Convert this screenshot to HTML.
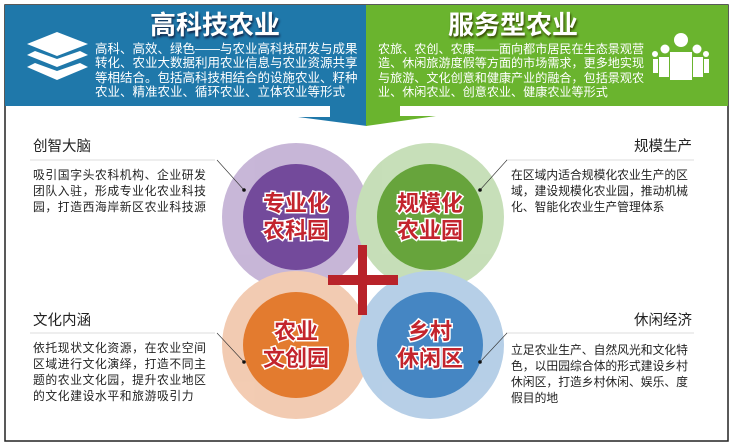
<!DOCTYPE html>
<html><head><meta charset="utf-8"><style>
body{margin:0;width:734px;height:448px;background:#fff;overflow:hidden;position:relative;font-family:"Liberation Sans","Noto Sans CJK SC",sans-serif;}
.a{position:absolute;}
.hb{color:#fff;font-size:12.5px;line-height:14.3px;white-space:nowrap;}
.t{color:#222;font-size:11.8px;line-height:16px;}
.h{color:#222;font-size:14.5px;}
</style></head><body>
<svg class="a" style="left:0;top:0" width="734" height="448">
<rect x="5" y="5" width="723" height="436" fill="#fff" stroke="#222" stroke-width="1.5"/>
<polygon points="5,5 367,5 367,126 298,117 330,117 330,106 5,106" fill="#1f78aa"/>
<polygon points="366,5 728,5 728,106 400,106 400,116 436,116 366,126" fill="#6ab42e"/>
<g fill="#fff">
<polygon points="57,32 88,44 57,56 27,44"/>
<polygon points="35,51 57,59 80,51 88,55 57,67 27,55"/>
<polygon points="35,63 57,71 80,63 88,67 57,80 27,67"/>
</g>
<g fill="#fff">
<circle cx="681" cy="40" r="7"/>
<path d="M670,52 h22 v28 h-22z"/>
<circle cx="665" cy="49" r="4.5"/><path d="M659,57 h10 v20 h-10z"/>
<circle cx="697" cy="49" r="4.5"/><path d="M693,57 h10 v20 h-10z"/>
<circle cx="655" cy="54" r="3"/><path d="M653,59 h5 v14 h-5z"/>
<circle cx="706" cy="54" r="3"/><path d="M704,59 h5 v14 h-5z"/>
</g>
<g opacity="0.55">
<circle cx="296" cy="217" r="74" fill="#9b7bb8"/>
<circle cx="430" cy="217" r="74" fill="#99c47f"/>
<circle cx="296" cy="345" r="74" fill="#e9a274"/>
<circle cx="430" cy="345" r="74" fill="#7ba8d4"/>
</g>
<circle cx="296" cy="217" r="53" fill="#734a9b"/>
<circle cx="430" cy="217" r="53" fill="#67a43c"/>
<circle cx="296" cy="345" r="53" fill="#e37b2f"/>
<circle cx="430" cy="345" r="53" fill="#4586c3"/>
<rect x="358" y="245" width="9" height="70" fill="#b8232a"/>
<rect x="328" y="275" width="70" height="10" fill="#b8232a"/>
<g fill="#c3242d" stroke="#fff" stroke-width="3" paint-order="stroke" font-size="22" font-weight="bold" text-anchor="middle" font-family="Noto Sans CJK SC,sans-serif">
<text x="296" y="211">专业化</text><text x="296" y="238">农科园</text>
<text x="430" y="211">规模化</text><text x="430" y="238">农业园</text>
<text x="296" y="339">农业</text><text x="296" y="366">文创园</text>
<text x="430" y="339">乡村</text><text x="430" y="366">休闲区</text>
</g>
<g stroke="#ddd" stroke-width="1">
<line x1="30" y1="160" x2="215" y2="160"/><line x1="30" y1="333" x2="215" y2="333"/>
<line x1="506" y1="160" x2="694" y2="160"/><line x1="506" y1="333" x2="694" y2="333"/>
</g>
<g stroke="#333" stroke-width="0.6">
<line x1="217" y1="160" x2="244" y2="190"/><line x1="217" y1="333" x2="244" y2="362"/>
<line x1="507" y1="160" x2="480" y2="190"/><line x1="507" y1="333" x2="480" y2="362"/>
</g>
<g fill="#111"><circle cx="244" cy="190" r="1.8"/><circle cx="244" cy="362" r="1.8"/><circle cx="480" cy="190" r="1.8"/><circle cx="480" cy="362" r="1.8"/></g>
</svg>
<div class="a" style="left:150px;top:5px;color:#fff;font-size:26px;font-weight:bold;text-shadow:1px 2px 2px #124;font-family:'Noto Sans CJK SC',sans-serif;">高科技农业</div>
<div class="a hb" style="left:95px;top:42px;">高科、高效、绿色——与农业高科技研发与成果<br>转化、农业大数据利用农业信息与农业资源共享<br>等相结合。包括高科技相结合的设施农业、籽种<br>农业、精准农业、循环农业、立体农业等形式</div>
<div class="a" style="left:448px;top:5px;color:#fff;font-size:26px;font-weight:bold;text-shadow:1px 2px 2px #340;font-family:'Noto Sans CJK SC',sans-serif;">服务型农业</div>
<div class="a hb" style="left:378px;top:42px;font-size:12.1px;">农旅、农创、农康——面向都市居民在生态景观营<br>造、休闲旅游度假等方面的市场需求，更多地实现<br>与旅游、文化创意和健康产业的融合，包括景观农<br>业、休闲农业、创意农业、健康农业等形式</div>
<div class="a h" style="left:33px;top:135px;">创智大脑</div>
<div class="a t" style="left:33px;top:167px;width:182px;letter-spacing:0.6px;">吸引国字头农科机构、企业研发团队入驻，形成专业化农业科技园，打造西海岸新区农业科技源</div>
<div class="a h" style="left:33px;top:309px;">文化内涵</div>
<div class="a t" style="left:33px;top:340px;width:182px;letter-spacing:0.6px;">依托现状文化资源，在农业空间区域进行文化演绎，打造不同主题的农业文化园，提升农业地区的文化建设水平和旅游吸引力</div>
<div class="a h" style="left:634px;top:135px;">规模生产</div>
<div class="a t" style="left:511px;top:167px;width:185px;">在区域内适合规模化农业生产的区域，建设规模化农业园，推动机械化、智能化农业生产管理体系</div>
<div class="a h" style="left:634px;top:309px;">休闲经济</div>
<div class="a t" style="left:511px;top:342px;width:185px;">立足农业生产、自然风光和文化特色，以田园综合体的形式建设乡村休闲区，打造乡村休闲、娱乐、度假目的地</div>
</body></html>
